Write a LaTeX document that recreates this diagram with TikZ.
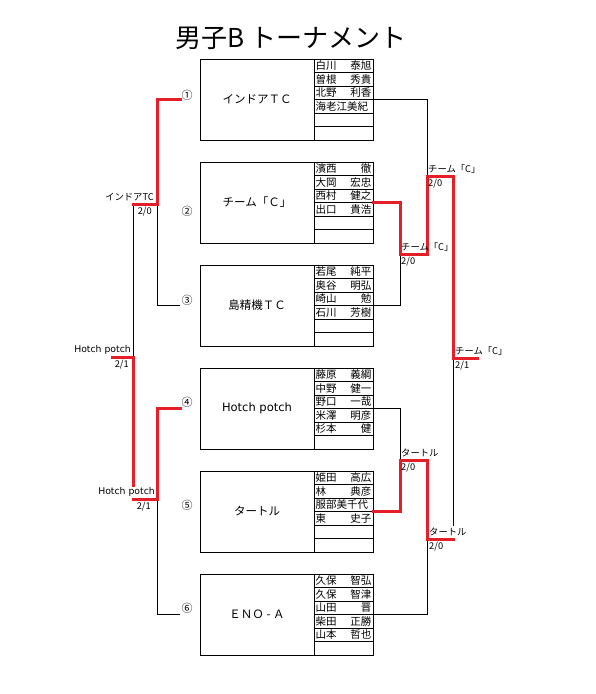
\documentclass[tikz,border=0pt]{standalone}
\usepackage{fontspec}
\setmainfont{Noto Sans CJK JP}
\newfontfamily\latinfont{DejaVu Sans}
\usetikzlibrary{positioning}
\definecolor{winred}{RGB}{230,30,40}

\newcommand{\fillroster}[2]{%
  \foreach \sur/\given [count=\k] in {#2}
    \node[member] at ([yshift=6.75pt-13.5pt*\k]#1.north) {\makebox[56pt]{\sur\hfill\given}};
  \foreach \k in {1,...,5}
    \draw[rowline] ([yshift=-13.5pt*\k]#1.north west) -- ([yshift=-13.5pt*\k]#1.north east);
}

\begin{document}
\begin{tikzpicture}[x=1pt, y=-1pt, line cap=rect,
   teambox/.style={draw, line width=1pt, rectangle, minimum width=114pt, minimum height=81pt, inner sep=0pt, outer sep=0pt, font=\fontsize{11.5}{12}\selectfont},
   roster/.style={draw, line width=1pt, rectangle, minimum width=59pt, minimum height=81pt, inner sep=0pt, outer sep=0pt},
   member/.style={inner sep=0pt, font=\fontsize{10.5}{11}\selectfont},
   rowline/.style={line width=.7pt},
   seed/.style={inner sep=0pt, font=\fontsize{11}{12}\selectfont},
   lose/.style={line width=.8pt},
   win/.style={winred, line width=3pt},
   score/.style={inner sep=1pt, font=\fontsize{9.3}{10}\selectfont},
]
   \useasboundingbox (0,0) rectangle (595,694);

   \node[font=\fontsize{26}{28}\selectfont] (title) at (291,38) {男子B トーナメント};

   \node[teambox, anchor=north west] (team1) at (200,59) {インドアＴＣ};
   \node[teambox, below=22pt of team1] (team2) {チーム「Ｃ」};
   \node[teambox, below=22pt of team2] (team3) {島精機ＴＣ};
   \node[teambox, below=22pt of team3] (team4) {\latinfont Hotch potch};
   \node[teambox, below=22pt of team4] (team5) {タートル};
   \node[teambox, below=22pt of team5] (team6) {ＥＮＯ - Ａ};

   \node[roster, right=0pt of team1] (roster1) {};
   \node[roster, right=0pt of team2] (roster2) {};
   \node[roster, right=0pt of team3] (roster3) {};
   \node[roster, right=0pt of team4] (roster4) {};
   \node[roster, right=0pt of team5] (roster5) {};
   \node[roster, right=0pt of team6] (roster6) {};

   \fillroster{roster1}{白川/泰旭, 曽根/秀貴, 北野/利香, 海老江美紀/}
   \fillroster{roster2}{濱西/徹, 大岡/宏忠, 西村/健之, 出口/貴浩}
   \fillroster{roster3}{若尾/純平, 奥谷/明弘, 崎山/勉, 石川/芳樹}
   \fillroster{roster4}{藤原/義綱, 中野/健一, 野口/一哉, 米澤/明彦, 杉本/健}
   \fillroster{roster5}{姫田/高広, 林/典彦, 服部美千代/, 東/史子}
   \fillroster{roster6}{久保/智弘, 久保/智津, 山田/晋, 柴田/正勝, 山本/哲也}

   \node[seed] (seed1) at ([xshift=-13pt,yshift=4.5pt]team1.west) {①};
   \node[seed] (seed2) at ([xshift=-13pt,yshift=-8.5pt]team2.west) {②};
   \node[seed] (seed3) at ([xshift=-13pt,yshift=5.5pt]team3.west) {③};
   \node[seed] (seed4) at ([xshift=-13pt,yshift=6.5pt]team4.west) {④};
   \node[seed] (seed5) at ([xshift=-13pt,yshift=6.5pt]team5.west) {⑤};
   \node[seed] (seed6) at ([xshift=-13pt,yshift=6.5pt]team6.west) {⑥};

   \coordinate (in1) at ([xshift=-20pt]team1.west);
   \coordinate (in3) at ([xshift=-20pt]team3.west);
   \coordinate (in4) at ([xshift=-20pt]team4.west);
   \coordinate (in6) at ([xshift=-20pt]team6.west);

   \coordinate (jA) at (157,204);
   \coordinate (jAout) at (133,204);
   \coordinate (jB) at (157,499);
   \coordinate (jBout) at (133,499);
   \coordinate (jC) at (133,357);
   \coordinate (jCout) at (112,357);
   \coordinate (jCend) at (133,485);

   \coordinate (jD) at (400,254);
   \coordinate (jE) at (427,176);
   \coordinate (jEend) at (427,243);
   \coordinate (jF) at (453,358);
   \coordinate (jFout) at (477,358);
   \coordinate (jFend) at (453,526);
   \coordinate (jG) at (400,460);
   \coordinate (jH) at (427,539);
   \coordinate (jHout) at (453,539);

   \draw[lose] (jA) |- (in3);
   \draw[lose] (jB) |- (in6);
   \draw[lose] (jAout) -- (jC);
   \draw[lose] (roster1.east) -| (jEend);
   \draw[lose] (roster3.east) -| (jD);
   \draw[lose] (roster4.east) -| (jG);
   \draw[lose] (roster6.east) -| (jH);
   \draw[lose] (jF) -- (jFend);

   \draw[win] (in1) -| (jA) -- (jAout);
   \draw[win] (in4) -| (jB) -- (jBout);
   \draw[win] (jCout) -- (jC) -- (jCend);
   \draw[win] (roster2.east) -| (jD) -| (jE) -| (jF) -- (jFout);
   \draw[win] (roster5.east) -| (jG) -| (jH) -- (jHout);

   \node[score, anchor=south east] (nameA) at ([xshift=-2pt,yshift=1.5pt]jA) {インドアTC};
   \node[score, anchor=north east] (scoreA) at ([xshift=-4pt,yshift=-1.5pt]jA) {2/0};
   \node[score, anchor=south east] (nameC) at ([xshift=-1pt,yshift=1.5pt]jC) {\latinfont Hotch potch};
   \node[score, anchor=north east] (scoreC) at ([xshift=-3pt,yshift=-1.5pt]jC) {2/1};
   \node[score, anchor=south east] (nameB) at ([xshift=-1pt,yshift=1.5pt]jB) {\latinfont Hotch potch};
   \node[score, anchor=north east] (scoreB) at ([xshift=-5pt,yshift=-1.5pt]jB) {2/1};

   \node[score, anchor=south west] (nameD) at ([yshift=1.5pt]jD) {チーム「C」};
   \node[score, anchor=north west] (scoreD) at ([yshift=-1.5pt]jD) {2/0};
   \node[score, anchor=south west] (nameE) at ([yshift=1.5pt]jE) {チーム「C」};
   \node[score, anchor=north west] (scoreE) at ([yshift=-1.5pt]jE) {2/0};
   \node[score, anchor=south west] (nameF) at ([xshift=1pt,yshift=1.5pt]jF) {チーム「C」};
   \node[score, anchor=north west] (scoreF) at ([xshift=1pt,yshift=-1.5pt]jF) {2/1};
   \node[score, anchor=south west] (nameG) at ([yshift=1.5pt]jG) {タートル};
   \node[score, anchor=north west] (scoreG) at ([yshift=-1.5pt]jG) {2/0};
   \node[score, anchor=south west] (nameH) at ([xshift=1pt,yshift=1.5pt]jH) {タートル};
   \node[score, anchor=north west] (scoreH) at ([xshift=1pt,yshift=-1.5pt]jH) {2/0};
\end{tikzpicture}
\end{document}
